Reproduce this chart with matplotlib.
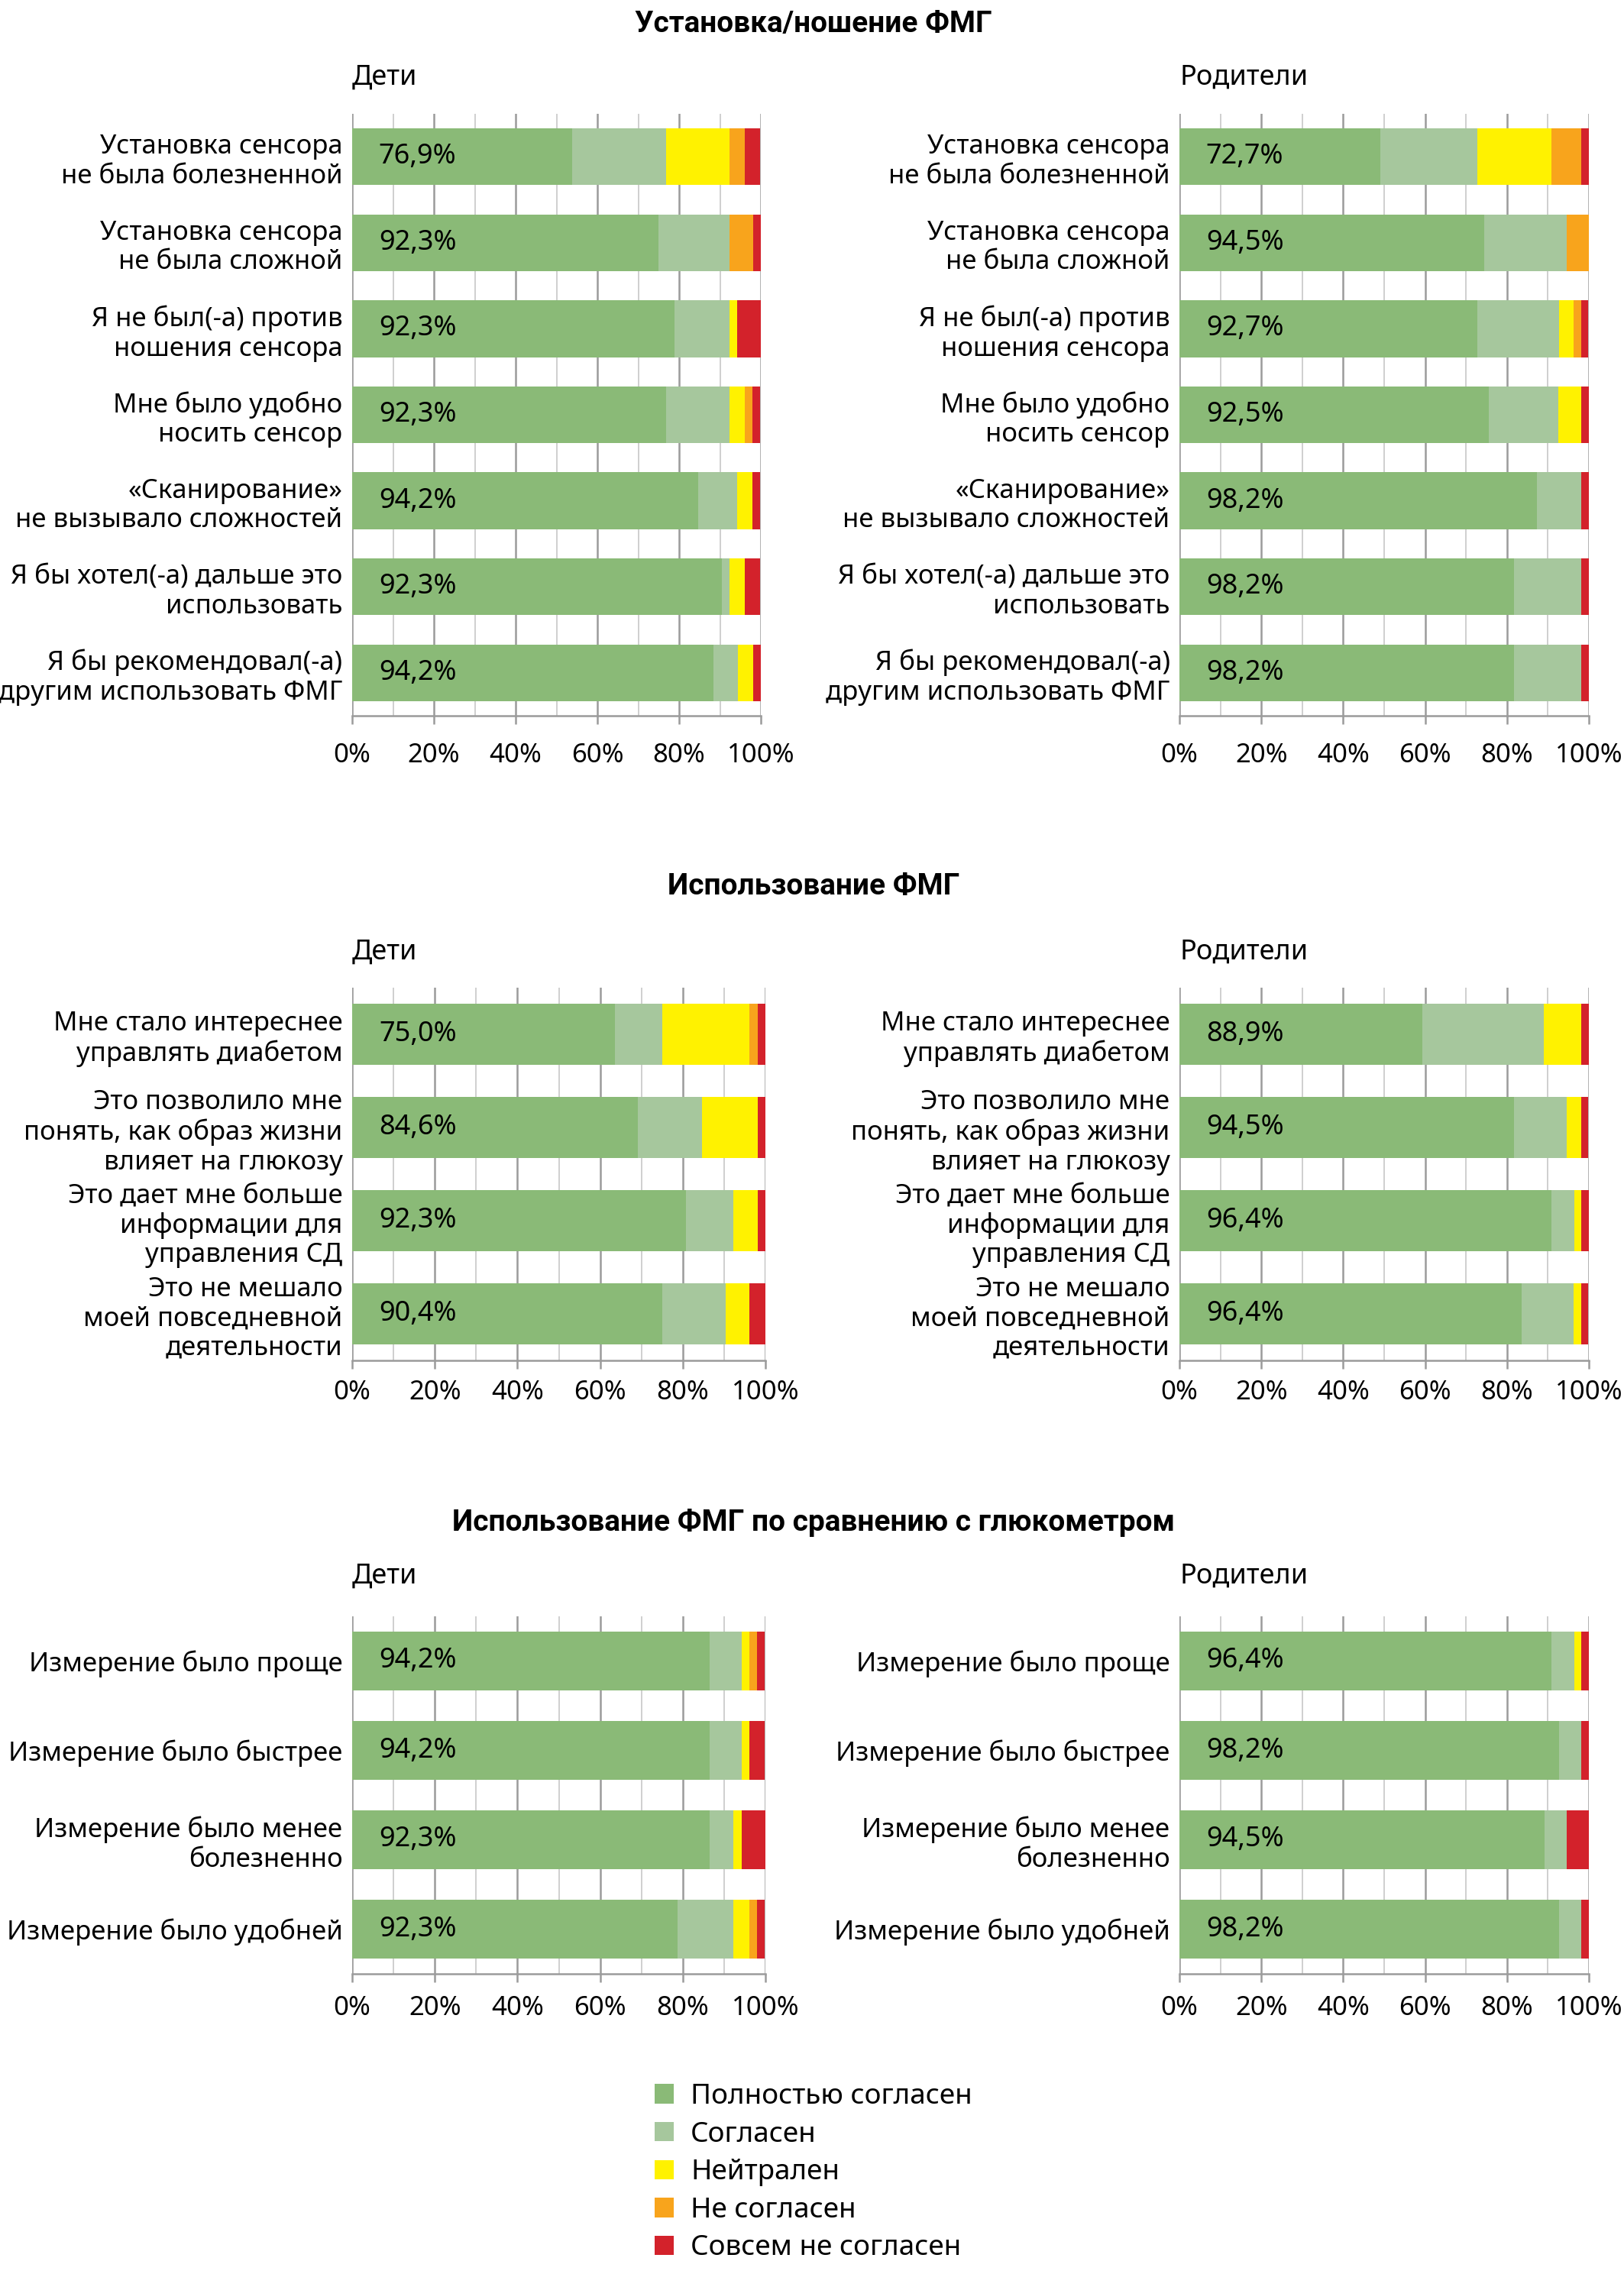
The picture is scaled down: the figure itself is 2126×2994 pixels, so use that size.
import matplotlib.pyplot as plt
import numpy as np
from matplotlib.patches import Patch

plt.rcParams['font.family'] = ['Noto Sans', 'DejaVu Sans']

W, H = 2126, 2994

levels = ["Полностью согласен", "Согласен", "Нейтрален", "Не согласен", "Совсем не согласен"]
colors = ["#8aba77", "#a6c79d", "#fff200", "#f8a41c", "#d3222b"]

# --- section 1: установка / ношение
q_wear = ["Установка сенсора\nне была болезненной",
          "Установка сенсора\nне была сложной",
          "Я не был(-а) против\nношения сенсора",
          "Мне было удобно\nносить сенсор",
          "«Сканирование»\nне вызывало сложностей",
          "Я бы хотел(-а) дальше это\nиспользовать",
          "Я бы рекомендовал(-а)\nдругим использовать ФМГ"]
kids_wear = [[53.8, 23.1, 15.4, 3.8, 3.8],
             [75.0, 17.3, 0.0, 5.8, 1.9],
             [78.8, 13.5, 1.9, 0.0, 5.8],
             [76.9, 15.4, 3.8, 1.9, 1.9],
             [84.6, 9.6, 3.8, 0.0, 1.9],
             [90.4, 1.9, 3.8, 0.0, 3.8],
             [88.5, 5.8, 3.8, 0.0, 1.9]]
kids_wear_lbl = ["76,9%", "92,3%", "92,3%", "92,3%", "94,2%", "92,3%", "94,2%"]
par_wear = [[49.1, 23.6, 18.2, 7.3, 1.8],
            [74.5, 20.0, 0.0, 5.5, 0.0],
            [72.7, 20.0, 3.6, 1.8, 1.8],
            [75.5, 17.0, 5.7, 0.0, 1.9],
            [87.3, 10.9, 0.0, 0.0, 1.8],
            [81.8, 16.4, 0.0, 0.0, 1.8],
            [81.8, 16.4, 0.0, 0.0, 1.8]]
par_wear_lbl = ["72,7%", "94,5%", "92,7%", "92,5%", "98,2%", "98,2%", "98,2%"]

# --- section 2: использование
q_use = ["Мне стало интереснее\nуправлять диабетом",
         "Это позволило мне\nпонять, как образ жизни\nвлияет на глюкозу",
         "Это дает мне больше\nинформации для\nуправления СД",
         "Это не мешало\nмоей повседневной\nдеятельности"]
kids_use = [[63.5, 11.5, 21.2, 1.9, 1.9],
            [69.2, 15.4, 13.5, 0.0, 1.9],
            [80.8, 11.5, 5.8, 0.0, 1.9],
            [75.0, 15.4, 5.8, 0.0, 3.8]]
kids_use_lbl = ["75,0%", "84,6%", "92,3%", "90,4%"]
par_use = [[59.3, 29.6, 9.3, 0.0, 1.9],
           [81.8, 12.7, 3.6, 0.0, 1.8],
           [90.9, 5.5, 1.8, 0.0, 1.8],
           [83.6, 12.7, 1.8, 0.0, 1.8]]
par_use_lbl = ["88,9%", "94,5%", "96,4%", "96,4%"]

# --- section 3: сравнение с глюкометром
q_cmp = ["Измерение было проще",
         "Измерение было быстрее",
         "Измерение было менее\nболезненно",
         "Измерение было удобней"]
kids_cmp = [[86.5, 7.7, 1.9, 1.9, 1.9],
            [86.5, 7.7, 1.9, 0.0, 3.8],
            [86.5, 5.8, 1.9, 0.0, 5.8],
            [78.8, 13.5, 3.8, 1.9, 1.9]]
kids_cmp_lbl = ["94,2%", "94,2%", "92,3%", "92,3%"]
par_cmp = [[90.9, 5.5, 1.8, 0.0, 1.8],
           [92.7, 5.5, 0.0, 0.0, 1.8],
           [89.1, 5.5, 0.0, 0.0, 5.5],
           [92.7, 5.5, 0.0, 0.0, 1.8]]
par_cmp_lbl = ["96,4%", "98,2%", "94,5%", "98,2%"]

FS = 25


def rect(x0, x1, ytop, ybot):
    return [x0 / W, 1 - ybot / H, (x1 - x0) / W, (ybot - ytop) / H]


def panel(ax, questions, values, labels, xpad):
    vals = np.array(values)
    n = len(questions)
    y = np.arange(n)
    left = np.zeros(n)
    for k in range(vals.shape[1]):
        ax.barh(y, vals[:, k], left=left, height=0.66, color=colors[k], zorder=3)
        left += vals[:, k]
    for i, t in enumerate(labels):
        ax.text(6.5, i, t, ha='left', va='center', fontsize=26, zorder=4)
    ax.set_xlim(0, 100)
    ax.set_ylim(n - 0.5, -0.5)
    ax.set_yticks(y)
    ax.set_yticklabels(questions, fontsize=FS, ha='right', linespacing=1.17)
    ax.set_xticks(np.arange(0, 101, 20))
    ax.set_xticklabels([f"{v}%" for v in range(0, 101, 20)], fontsize=FS)
    ax.set_xticks(np.arange(10, 100, 20), minor=True)
    ax.grid(axis='x', which='major', color='#9b9b9b', linewidth=1.8, zorder=0)
    ax.grid(axis='x', which='minor', color='#cfcfcf', linewidth=1.4, zorder=0)
    ax.tick_params(axis='y', length=0, pad=9)
    ax.tick_params(axis='x', which='major', length=8, width=1.8, color='#9b9b9b', pad=xpad)
    ax.tick_params(axis='x', which='minor', length=0)
    for s in ['top', 'right', 'left']:
        ax.spines[s].set_visible(False)
    ax.spines['bottom'].set_color('#9b9b9b')
    ax.spines['bottom'].set_linewidth(1.8)
    ax.set_axisbelow(True)


fig = plt.figure(figsize=(W / 100, H / 100), dpi=100)

sections = [
    ("Установка/ношение ФМГ", 32, 102, 149, 937, 996, 17,
     q_wear, kids_wear, kids_wear_lbl, par_wear, par_wear_lbl),
    ("Использование ФМГ", 1160, 1247, 1293, 1781, 1002, 10,
     q_use, kids_use, kids_use_lbl, par_use, par_use_lbl),
    ("Использование ФМГ по сравнению с глюкометром", 1993, 2064, 2116, 2584, 1002, 12,
     q_cmp, kids_cmp, kids_cmp_lbl, par_cmp, par_cmp_lbl),
]

for (title, ty, sy, ytop, ybot, kx1, xpad, qs, kv, kl, pv, pl) in sections:
    fig.text(1065 / W, 1 - ty / H, title, ha='center', va='center',
             fontsize=28, fontweight='bold', family=['Roboto', 'DejaVu Sans'])
    fig.text(461 / W, 1 - sy / H, "Дети", ha='left', va='center', fontsize=26)
    fig.text(1544 / W, 1 - sy / H, "Родители", ha='left', va='center', fontsize=26)
    ax1 = fig.add_axes(rect(461, kx1, ytop, ybot))
    panel(ax1, qs, kv, kl, xpad)
    ax2 = fig.add_axes(rect(1544, 2080, ytop, ybot))
    panel(ax2, qs, pv, pl, xpad)

handles = [Patch(facecolor=c, edgecolor='none') for c in colors]
fig.legend(handles, levels, loc='upper left', bbox_to_anchor=(857 / W, 1 - 2727 / H),
           frameon=False, fontsize=26.5, handlelength=0.68, handleheight=0.68,
           handletextpad=0.6, labelspacing=0.37, borderpad=0, borderaxespad=0)

fig.savefig("out.png", dpi=100)
